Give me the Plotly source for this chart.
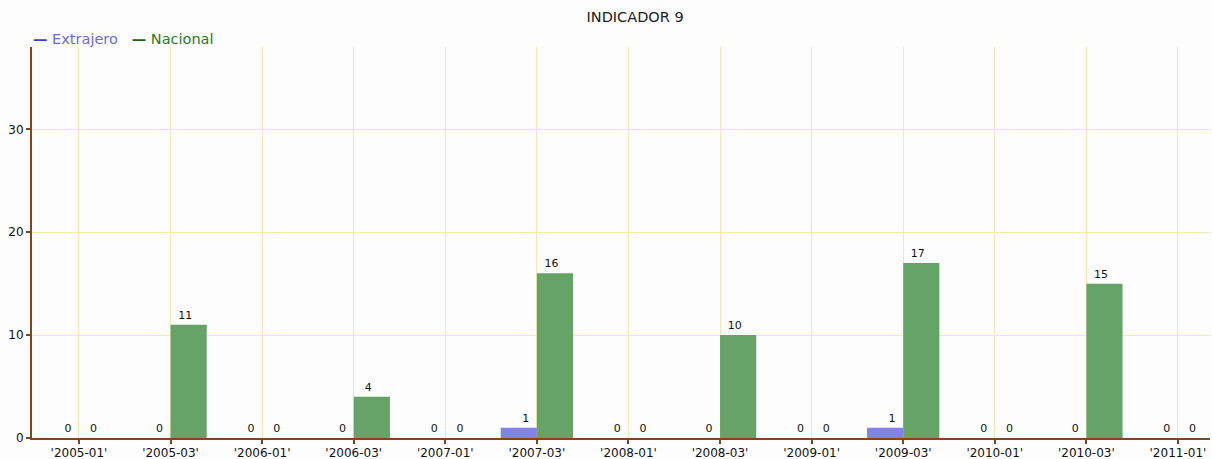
import plotly.graph_objects as go

categories = ["'2005-01'", "'2005-03'", "'2006-01'", "'2006-03'", "'2007-01'", "'2007-03'",
              "'2008-01'", "'2008-03'", "'2009-01'", "'2009-03'", "'2010-01'", "'2010-03'", "'2011-01'"]
extrajero = [0, 0, 0, 0, 0, 1, 0, 0, 0, 1, 0, 0, 0]
nacional = [0, 11, 0, 4, 0, 16, 0, 10, 0, 17, 0, 15, 0]
series_names = ["Extrajero", "Nacional"]

FONT = "DejaVu Sans"
AXIS = "#7a4a1e"
GRID = "#fae6b0"
NB = "\u00a0"

fig = go.Figure()
fig.add_trace(go.Bar(x=categories, y=extrajero, name=series_names[0], showlegend=False,
                     marker=dict(color="#8383e3", line=dict(width=0)),
                     text=[NB * 4 + str(v) for v in extrajero], textposition="outside", cliponaxis=False,
                     textfont=dict(family=FONT, size=11, color="#111111")))
fig.add_trace(go.Bar(x=categories, y=nacional, name=series_names[1], showlegend=False,
                     marker=dict(color="#66a366", line=dict(width=0)),
                     text=[str(v) + NB * 2 for v in nacional], textposition="outside", cliponaxis=False,
                     textfont=dict(family=FONT, size=11, color="#111111")))

# legend drawn as text
fig.add_annotation(xref="paper", yref="paper", x=0.0, xanchor="left", y=1.0, yanchor="bottom", yshift=-2,
                   xshift=-1, showarrow=False, align="left", font=dict(family=FONT, size=14.5),
                   text=("<span style='color:#3c3cd6'><b>—</b></span><span style='color:#6a6ae0'> " + series_names[0] +
                         "</span>   <span style='color:#176617'><b>—</b></span><span style='color:#2a7a2a'> " +
                         series_names[1] + "</span>"))

fig.update_layout(
    width=1212, height=459,
    margin=dict(l=32, r=2, t=47, b=21, autoexpand=False),
    paper_bgcolor="#fdfdfd", plot_bgcolor="#fdfdfd",
    barmode="group", bargap=0.21, bargroupgap=0,
    showlegend=False,
    title=dict(text="INDICADOR 9", x=0.524, xanchor="center", y=0.963, yanchor="middle",
               font=dict(family=FONT, size=14.5, color="#222222")),
    font=dict(family=FONT, size=11, color="#111111"),
)
fig.update_xaxes(type="category", range=[-0.513, 12.35], showgrid=True, gridcolor=GRID, gridwidth=1,
                 showline=True, linecolor=AXIS, linewidth=2, ticks="outside", tickcolor=AXIS,
                 ticklen=4, tickwidth=2, tickfont=dict(family=FONT, size=12, color="#111111"),
                 ticklabelstandoff=-1, zeroline=False, automargin=False)
fig.update_yaxes(range=[0, 38], tickvals=[0, 10, 20, 30], showgrid=True, gridcolor=GRID, gridwidth=1,
                 showline=True, linecolor=AXIS, linewidth=2, ticks="outside", tickcolor=AXIS,
                 ticklen=4, tickwidth=2, tickfont=dict(family=FONT, size=12, color="#111111"),
                 zeroline=False, automargin=False)

fig.write_html("out.html", config={"displayModeBar": False},
               post_script="document.body.style.margin='0px';document.body.style.overflow='hidden';")
